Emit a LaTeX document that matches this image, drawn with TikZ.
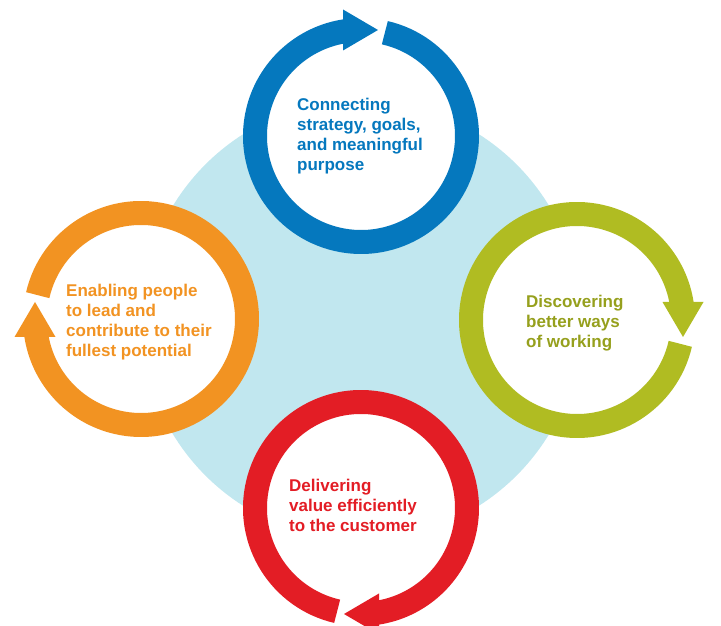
\documentclass[tikz,border=0pt]{standalone}
\usepackage{fontspec}
\setmainfont{Liberation Sans}
\usetikzlibrary{positioning}
\usepackage{xcolor}

\definecolor{cycleblue}{HTML}{0578BE}
\definecolor{cyclegreen}{HTML}{B0BC22}
\definecolor{cyclered}{HTML}{E31D25}
\definecolor{cycleorange}{HTML}{F29322}
\definecolor{cyclebg}{HTML}{C1E7EF}

\begin{document}
\begin{tikzpicture}[x=1pt, y=1pt,
    ringarc/.style={line width=24pt},
    cycletext/.style={inner sep=0pt, anchor=north west, align=left, font=\bfseries\fontsize{17}{20}\selectfont}]
  \useasboundingbox (0,0) rectangle (721,626);
  \clip (0,0) rectangle (721,626);

  % pale disc behind the four rings
  \fill[cyclebg] (361,306) circle (220);

  % top ring
  \begin{scope}[shift={(361,490)}]
    \fill[white] (0,0) circle (106);
    \draw[ringarc, cycleblue] (77:106) arc[start angle=77, end angle=-262, radius=106];
    \fill[cycleblue] (-18,85.5) -- (-18,126.5) -- (17,106) -- cycle;
  \end{scope}

  % right ring
  \begin{scope}[shift={(577,306)}, rotate=-90]
    \fill[white] (0,0) circle (106);
    \draw[ringarc, cyclegreen] (77:106) arc[start angle=77, end angle=-262, radius=106];
    \fill[cyclegreen] (-18,85.5) -- (-18,126.5) -- (17,106) -- cycle;
  \end{scope}

  % bottom ring
  \begin{scope}[shift={(361,118)}, rotate=-180]
    \fill[white] (0,0) circle (106);
    \draw[ringarc, cyclered] (77:106) arc[start angle=77, end angle=-262, radius=106];
    \fill[cyclered] (-18,85.5) -- (-18,126.5) -- (17,106) -- cycle;
  \end{scope}

  % left ring
  \begin{scope}[shift={(141,307)}, rotate=90]
    \fill[white] (0,0) circle (106);
    \draw[ringarc, cycleorange] (77:106) arc[start angle=77, end angle=-262, radius=106];
    \fill[cycleorange] (-18,85.5) -- (-18,126.5) -- (17,106) -- cycle;
  \end{scope}

  \node[cycletext, cycleblue] (strategy) at (297,528) {Connecting\\strategy, goals,\\and meaningful\\purpose};
  \node[cycletext, cyclegreen!85!black] (working) at (526,331) {Discovering\\better ways\\of working};
  \node[cycletext, cyclered] (value) at (289,147) {Delivering\\value efficiently\\to the customer};
  \node[cycletext, cycleorange] (people) at (66,342) {Enabling people\\to lead and\\contribute to their\\fullest potential};
\end{tikzpicture}
\end{document}
